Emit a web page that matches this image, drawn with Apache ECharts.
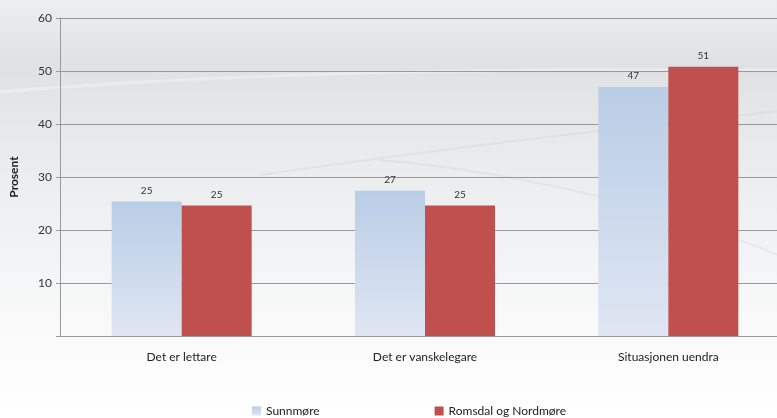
<!DOCTYPE html>
<html>
<head>
<meta charset="utf-8">
<script src="https://cdn.jsdelivr.net/npm/echarts@6/dist/echarts.min.js"></script>
<style>
  html, body { margin: 0; padding: 0; background: #fff; overflow: hidden; }
  /* the plot runs slightly past the right edge of the window */
  #chart { width: 791px; height: 418px; }
</style>
</head>
<body>
<div id="chart"></div>
<script>
// Survey answers, in percent
const categories = ['Det er lettare', 'Det er vanskelegare', 'Situasjonen uendra'];
const seriesNames = ['Sunnmøre', 'Romsdal og Nordmøre'];
const sunnmore = [25.4, 27.4, 47.0];
const romsdal = [24.6, 24.6, 50.8];
const yTicks = [0, 10, 20, 30, 40, 50, 60];

const FONT = 'Lato, "Open Sans", sans-serif';
const chart = echarts.init(document.getElementById('chart'), null, { renderer: 'canvas' });

const valueLabel = {
  show: true,
  position: 'top',
  distance: 6,
  fontSize: 10,
  fontFamily: FONT,
  color: '#333',
  formatter: p => Math.round(p.value)
};

chart.setOption({
  backgroundColor: new echarts.graphic.LinearGradient(0, 0, 0, 1, [
    { offset: 0, color: '#eceef0' },
    { offset: 0.15, color: '#dfe1e3' },
    { offset: 0.45, color: '#eceef0' },
    { offset: 0.8, color: '#fafafa' },
    { offset: 1, color: '#ffffff' }
  ]),
  animation: false,
  textStyle: { fontFamily: FONT },
  graphic: [
    // faint decorative swooshes behind the plot
    {
      type: 'bezierCurve', silent: true, z: -1,
      shape: { x1: 0, y1: 92, x2: 790, y2: 70, cpx1: 300, cpy1: 66 },
      style: { stroke: 'rgba(255,255,255,0.3)', lineWidth: 3, fill: null }
    },
    {
      type: 'bezierCurve', silent: true, z: -1,
      shape: { x1: 380, y1: 160, x2: 790, y2: 260, cpx1: 600, cpy1: 180 },
      style: { stroke: 'rgba(205,208,212,0.3)', lineWidth: 2, fill: null }
    },
    {
      type: 'bezierCurve', silent: true, z: -1,
      shape: { x1: 260, y1: 175, x2: 790, y2: 110, cpx1: 500, cpy1: 140 },
      style: { stroke: 'rgba(205,208,212,0.3)', lineWidth: 2, fill: null }
    }
  ],
  grid: { left: 60, top: 18, width: 730, height: 318, containLabel: false },
  legend: {
    data: seriesNames,
    left: 247,
    top: 400,
    icon: 'rect',
    itemWidth: 9,
    itemHeight: 9,
    itemGap: 115,
    textStyle: { fontSize: 12, color: '#222', fontFamily: FONT }
  },
  xAxis: {
    type: 'category',
    data: categories,
    axisLine: { show: true, lineStyle: { color: '#999', width: 1 } },
    axisTick: { show: false },
    axisLabel: { fontSize: 12, color: '#222', margin: 15, fontFamily: FONT },
    splitLine: { show: false }
  },
  yAxis: {
    type: 'value',
    min: yTicks[0],
    max: yTicks[yTicks.length - 1],
    interval: 10,
    name: 'Prosent',
    nameLocation: 'middle',
    nameGap: 40,
    nameRotate: 90,
    nameTextStyle: { fontSize: 12, fontWeight: 'bold', color: '#222', fontFamily: FONT },
    axisLine: { show: true, lineStyle: { color: '#999', width: 1 } },
    axisTick: { show: true, length: 4, lineStyle: { color: '#999' } },
    axisLabel: {
      fontSize: 12, color: '#333', margin: 8, fontFamily: FONT,
      formatter: v => (v === 0 ? '' : String(v))
    },
    splitLine: { show: true, lineStyle: { color: '#999', width: 1 } }
  },
  series: [
    {
      name: seriesNames[0],
      type: 'bar',
      data: sunnmore,
      barWidth: 70,
      barGap: '0%',
      itemStyle: {
        color: new echarts.graphic.LinearGradient(0, 0, 0, 1, [
          { offset: 0, color: '#b9cde6' },
          { offset: 1, color: '#dfe6f3' }
        ])
      },
      label: valueLabel
    },
    {
      name: seriesNames[1],
      type: 'bar',
      data: romsdal,
      barWidth: 70,
      barGap: '0%',
      itemStyle: { color: '#c0504d' },
      label: valueLabel
    }
  ]
});
</script>
</body>
</html>
